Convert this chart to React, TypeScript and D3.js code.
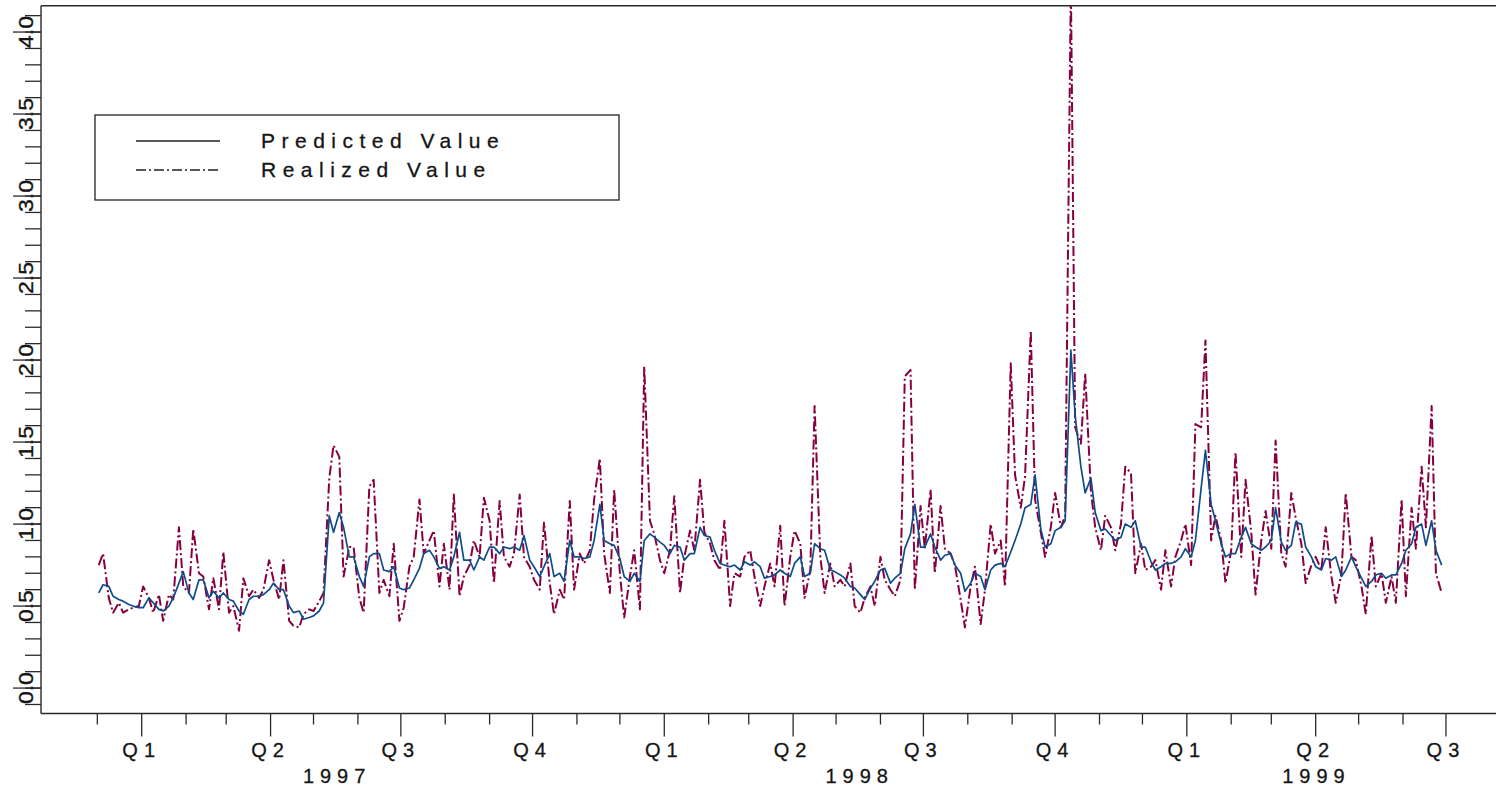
import React from "react";
import * as d3 from "d3";

// Observations: Monday / Thursday of every week from 2 Dec 1996 to 28 Jun 1999
const predicted: number[] = [
  0.58, 0.63, 0.62, 0.56, 0.54, 0.53, 0.51, 0.50, 0.49, 0.49,
  0.55, 0.52, 0.48, 0.47, 0.50, 0.55, 0.64, 0.71, 0.58, 0.54,
  0.66, 0.66, 0.55, 0.59, 0.55, 0.58, 0.54, 0.53, 0.47, 0.45,
  0.54, 0.56, 0.56, 0.57, 0.60, 0.64, 0.60, 0.60, 0.50, 0.46,
  0.47, 0.42, 0.43, 0.44, 0.47, 0.52, 1.05, 0.95, 1.07, 0.98,
  0.80, 0.80, 0.68, 0.62, 0.80, 0.82, 0.82, 0.72, 0.71, 0.74,
  0.61, 0.60, 0.61, 0.66, 0.73, 0.82, 0.84, 0.80, 0.73, 0.74,
  0.72, 0.80, 0.95, 0.78, 0.78, 0.72, 0.80, 0.78, 0.86, 0.86,
  0.82, 0.86, 0.85, 0.86, 0.84, 0.93, 0.78, 0.74, 0.68, 0.74,
  0.82, 0.68, 0.70, 0.65, 0.90, 0.80, 0.80, 0.79, 0.80, 0.90,
  1.12, 0.90, 0.88, 0.87, 0.79, 0.68, 0.65, 0.70, 0.65, 0.90,
  0.94, 0.92, 0.89, 0.87, 0.82, 0.87, 0.86, 0.78, 0.82, 0.82,
  0.98, 0.93, 0.92, 0.84, 0.76, 0.75, 0.74, 0.75, 0.72, 0.77,
  0.75, 0.77, 0.74, 0.67, 0.68, 0.69, 0.72, 0.70, 0.68, 0.76,
  0.80, 0.68, 0.70, 0.88, 0.85, 0.84, 0.72, 0.71, 0.69, 0.67,
  0.62, 0.61, 0.57, 0.54, 0.61, 0.65, 0.72, 0.73, 0.64, 0.67,
  0.70, 0.85, 0.94, 1.12, 0.86, 0.86, 0.94, 0.86, 0.78, 0.81,
  0.82, 0.75, 0.70, 0.59, 0.64, 0.70, 0.68, 0.60, 0.72, 0.75,
  0.76, 0.74, 0.83, 0.90, 1.00, 1.10, 1.12, 1.30, 0.97, 0.86,
  0.88, 0.96, 0.98, 1.02, 2.06, 1.66, 1.35, 1.19, 1.28, 1.07,
  0.96, 0.97, 0.93, 0.90, 0.92, 1.00, 0.98, 1.02, 0.86, 0.86,
  0.77, 0.72, 0.74, 0.76, 0.76, 0.77, 0.80, 0.85, 0.80, 0.90,
  1.22, 1.45, 1.12, 1.02, 0.88, 0.80, 0.82, 0.82, 0.92, 0.98,
  0.88, 0.86, 0.84, 0.86, 0.90, 1.10, 0.89, 0.84, 0.87, 1.01,
  1.00, 0.86, 0.80, 0.74, 0.72, 0.79, 0.78, 0.80, 0.68, 0.72,
  0.80, 0.74, 0.67, 0.62, 0.65, 0.69, 0.70, 0.67, 0.69, 0.69,
  0.76, 0.84, 0.88, 0.98, 1.00, 0.87, 1.02, 0.84, 0.75,
];

const realized: number[] = [
  0.75, 0.82, 0.55, 0.46, 0.52, 0.46, 0.48, 0.49, 0.50, 0.62,
  0.55, 0.46, 0.57, 0.41, 0.57, 0.54, 0.98, 0.62, 0.58, 0.97,
  0.70, 0.68, 0.48, 0.67, 0.48, 0.83, 0.46, 0.50, 0.35, 0.67,
  0.56, 0.60, 0.55, 0.60, 0.78, 0.66, 0.54, 0.78, 0.41, 0.38,
  0.37, 0.45, 0.48, 0.47, 0.53, 0.58, 1.28, 1.48, 1.41, 0.68,
  0.86, 0.86, 0.55, 0.46, 1.23, 1.27, 0.58, 0.66, 0.56, 0.88,
  0.41, 0.49, 0.74, 0.80, 1.15, 0.82, 0.90, 0.96, 0.62, 0.88,
  0.60, 1.18, 0.56, 0.68, 0.75, 0.90, 0.80, 1.16, 1.02, 0.64,
  1.14, 0.80, 0.74, 0.82, 1.18, 0.80, 0.74, 0.66, 0.60, 1.01,
  0.64, 0.45, 0.60, 0.54, 1.14, 0.60, 0.82, 0.76, 0.84, 1.15,
  1.40, 0.82, 0.58, 1.21, 0.70, 0.43, 0.68, 0.84, 0.48, 1.96,
  1.02, 0.94, 0.78, 0.70, 0.84, 1.17, 0.58, 0.80, 0.96, 0.84,
  1.27, 0.95, 0.88, 0.78, 0.72, 1.02, 0.50, 0.70, 0.68, 0.80,
  0.84, 0.68, 0.50, 0.62, 0.76, 0.62, 0.99, 0.50, 0.80, 0.96,
  0.88, 0.55, 0.72, 1.72, 0.80, 0.58, 0.76, 0.62, 0.66, 0.62,
  0.76, 0.50, 0.46, 0.55, 0.62, 0.50, 0.80, 0.66, 0.60, 0.56,
  0.66, 1.90, 1.94, 0.60, 1.11, 0.85, 1.21, 0.70, 1.11, 0.85,
  0.82, 0.75, 0.54, 0.37, 0.62, 0.74, 0.39, 0.60, 1.00, 0.82,
  0.90, 0.62, 1.98, 1.30, 1.10, 1.29, 2.18, 1.15, 0.95, 0.80,
  0.98, 1.19, 0.98, 1.05, 4.30, 1.59, 1.49, 1.92, 1.20, 0.98,
  0.84, 1.05, 0.98, 0.84, 1.00, 1.35, 1.31, 0.70, 0.88, 0.72,
  0.74, 0.78, 0.60, 0.84, 0.62, 0.80, 0.90, 1.00, 0.75, 1.61,
  1.59, 2.12, 0.90, 1.05, 0.90, 0.64, 0.84, 1.44, 0.80, 1.27,
  0.95, 0.57, 0.90, 1.08, 0.85, 1.51, 0.82, 0.74, 1.19, 1.04,
  0.88, 0.64, 0.75, 0.80, 0.72, 0.98, 0.68, 0.52, 0.70, 1.19,
  0.80, 0.78, 0.62, 0.45, 0.93, 0.62, 0.70, 0.52, 0.68, 0.52,
  1.15, 0.56, 1.10, 0.85, 1.35, 0.98, 1.72, 0.70, 0.58,
];

const seriesNames: string[] = ["Predicted Value", "Realized Value"];
const quarterLabels: string[] = ["Q1", "Q2", "Q3", "Q4"];
const yTickLabels: string[] = ["0.0", "0.5", "1.0", "1.5", "2.0", "2.5", "3.0", "3.5", "4.0"];
const yTickValues: number[] = [0, 0.5, 1, 1.5, 2, 2.5, 3, 3.5, 4];

const DAY = 86400000;
const firstObs = Date.UTC(1996, 11, 2);
const dates: Date[] = predicted.map((_, i) =>
  new Date(firstObs + (Math.floor(i / 2) * 7 + (i % 2) * 3) * DAY)
);

const W = 1496;
const H = 793;
const FONT = "'Liberation Sans', Arial, Helvetica, sans-serif";
const BLUE = "#0f4c8a";
const RED = "#860040";
const AXIS = "#2a2a2a";
const TEXT = "#151515";

export default function App() {
  const x = d3
    .scaleUtc()
    .domain([new Date(Date.UTC(1996, 9, 23)), new Date(Date.UTC(1999, 7, 6))])
    .range([41.5, 1497.5]);
  const y = d3.scaleLinear().domain([-0.155, 4.16]).range([713.5, 5.8]);

  const left = 41;
  const top = 5.8;
  const bottom = 713.5;

  const line = d3
    .line<number>()
    .x((_, i) => x(dates[i]))
    .y((d) => y(d));

  const months = d3.utcMonth.range(
    new Date(Date.UTC(1996, 11, 1)),
    new Date(Date.UTC(1999, 7, 1))
  );
  const quarters = months.filter((m) => m.getUTCMonth() % 3 === 0);
  const years = Array.from(new Set(quarters.map((q) => q.getUTCFullYear())));

  const minorTicks = d3.range(-1, 42).map((k) => k / 10);

  return (
    <div style={{ position: "absolute", left: 0, top: 0 }}>
      <svg width={W} height={H} style={{ display: "block", background: "#fff" }}>
        <defs>
          <clipPath id="plotClip">
            <rect x={left} y={top} width={W - left + 10} height={bottom - top} />
          </clipPath>
        </defs>

        {/* frame */}
        <line x1={left} x2={W + 2} y1={top} y2={top} stroke={AXIS} strokeWidth={1.4} />
        <line x1={left} x2={left} y1={top} y2={bottom} stroke={AXIS} strokeWidth={1.4} />
        <line x1={left} x2={W + 2} y1={bottom} y2={bottom} stroke={AXIS} strokeWidth={1.4} />

        {/* y ticks */}
        {minorTicks.map((v, i) => (
          <line
            key={"yt" + i}
            x1={25}
            x2={left}
            y1={y(v)}
            y2={y(v)}
            stroke={AXIS}
            strokeWidth={1.3}
          />
        ))}
        {yTickValues.map((v, i) => (
          <g key={"yl" + i}>
            <text
              transform={`translate(32.5,${y(v)}) rotate(-90) scale(1.18,1)`}
              textAnchor="middle"
              fontFamily={FONT}
              fontSize={19.5}
              fill={TEXT}
              stroke={TEXT}
              strokeWidth={0.35}
            >
              {yTickLabels[i]}
            </text>
            <line x1={13} x2={left} y1={y(v)} y2={y(v)} stroke={AXIS} strokeWidth={1.3} />
          </g>
        ))}

        {/* x ticks */}
        {months.map((m, i) => {
          const major = m.getUTCMonth() % 3 === 0;
          return (
            <line
              key={"xt" + i}
              x1={x(m)}
              x2={x(m)}
              y1={bottom}
              y2={bottom + (major ? 23 : 11)}
              stroke={AXIS}
              strokeWidth={1.3}
            />
          );
        })}
        {quarters.map((q, i) => (
          <text
            key={"ql" + i}
            x={x(q)}
            y={757}
            textAnchor="middle"
            fontFamily={FONT}
            fontSize={20}
            letterSpacing={6}
            fill={TEXT}
            stroke={TEXT}
            strokeWidth={0.3}
          >
            {quarterLabels[q.getUTCMonth() / 3]}
          </text>
        ))}
        {years.map((yr) => {
          const qs = quarters.filter((q) => q.getUTCFullYear() === yr);
          const cx = (x(qs[0]) + x(qs[qs.length - 1])) / 2;
          return (
            <text
              key={"yr" + yr}
              x={cx}
              y={783}
              textAnchor="middle"
              fontFamily={FONT}
              fontSize={20}
              letterSpacing={6}
              fill={TEXT}
              stroke={TEXT}
              strokeWidth={0.3}
            >
              {String(yr)}
            </text>
          );
        })}

        {/* series */}
        <g clipPath="url(#plotClip)">
          <path
            d={line(realized) || ""}
            fill="none"
            stroke={RED}
            strokeWidth={2}
            strokeDasharray="10,3,2,3"
            strokeLinejoin="round"
          />
          <path
            d={line(predicted) || ""}
            fill="none"
            stroke={BLUE}
            strokeWidth={1.7}
            strokeLinejoin="round"
          />
        </g>

        {/* legend */}
        <rect x={95} y={115} width={524} height={85} fill="#fff" stroke="#222" strokeWidth={1.3} />
        <line x1={136} x2={220} y1={141} y2={141} stroke="#222" strokeWidth={1.3} />
        <line
          x1={136}
          x2={220}
          y1={170}
          y2={170}
          stroke="#222"
          strokeWidth={1.3}
          strokeDasharray="10,3,2,3"
        />
        <text
          x={261}
          y={148}
          fontFamily={FONT}
          fontSize={21}
          letterSpacing={6.5}
          fill={TEXT}
          stroke={TEXT}
          strokeWidth={0.3}
        >
          {seriesNames[0]}
        </text>
        <text
          x={261}
          y={177}
          fontFamily={FONT}
          fontSize={21}
          letterSpacing={6.5}
          fill={TEXT}
          stroke={TEXT}
          strokeWidth={0.3}
        >
          {seriesNames[1]}
        </text>
      </svg>
    </div>
  );
}
